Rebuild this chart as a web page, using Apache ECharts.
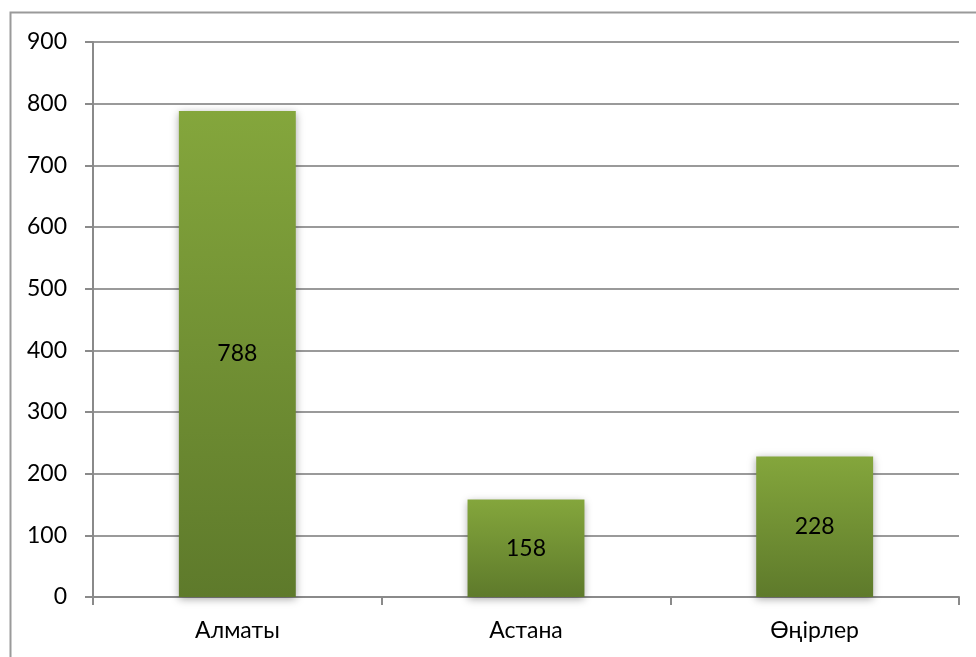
<!DOCTYPE html>
<html>
<head>
<meta charset="utf-8">
<script src="https://cdn.jsdelivr.net/npm/echarts@6/dist/echarts.min.js"></script>
<style>
html,body{margin:0;padding:0;background:#fff;}
#chart{width:976px;height:657px;}
</style>
</head>
<body>
<div id="chart"></div>
<script>
const categories = ['Алматы', 'Астана', 'Өңірлер'];
const values = [788, 158, 228];
const yMin = 0, yMax = 900, yStep = 100;

const chart = echarts.init(document.getElementById('chart'), null, {renderer: 'canvas'});
const font = 'Lato, "Open Sans", sans-serif';
chart.setOption({
  animation: false,
  backgroundColor: '#fff',
  grid: {left: 93, right: 17, top: 42, bottom: 60},
  graphic: [{
    type: 'polyline',
    shape: {points: [[10.5, 657], [10.5, 12.5], [976, 12.5]]},
    style: {stroke: '#9a9a9a', lineWidth: 2, fill: null}
  }],
  xAxis: {
    type: 'category',
    data: categories,
    axisLine: {show: true, lineStyle: {color: '#8a8a8a', width: 2}},
    axisTick: {show: true, length: 8, alignWithLabel: false, lineStyle: {color: '#8a8a8a', width: 2}},
    axisLabel: {color: '#000', fontSize: 23, fontFamily: font, margin: 22}
  },
  yAxis: {
    type: 'value',
    min: yMin, max: yMax, interval: yStep,
    axisLine: {show: true, lineStyle: {color: '#8a8a8a', width: 2}},
    axisTick: {show: true, length: 8, lineStyle: {color: '#8a8a8a', width: 2}},
    axisLabel: {color: '#000', fontSize: 23, fontFamily: font, margin: 26},
    splitLine: {show: true, lineStyle: {color: '#9a9a9a', width: 2}}
  },
  series: [{
    type: 'bar',
    data: values,
    barWidth: '40.5%',
    itemStyle: {
      color: new echarts.graphic.LinearGradient(0, 0, 0, 1, [
        {offset: 0, color: '#84a63c'},
        {offset: 1, color: '#5e7a2b'}
      ]),
      shadowBlur: 8,
      shadowColor: 'rgba(0,0,0,0.35)',
      shadowOffsetY: 2
    },
    label: {
      show: true,
      position: 'inside',
      color: '#000',
      fontSize: 23,
      fontFamily: font
    }
  }]
});
</script>
</body>
</html>
